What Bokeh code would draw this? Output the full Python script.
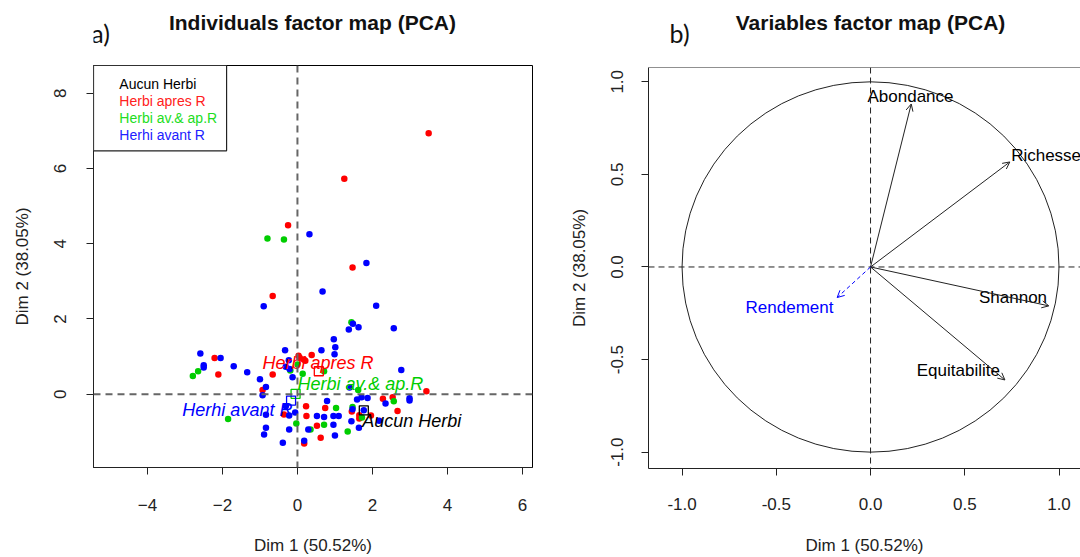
from bokeh.plotting import figure
from bokeh.models import Span, Label, BoxAnnotation, FixedTicker, Arrow, OpenHead, ColumnDataSource, Range1d
from bokeh.layouts import row, column
from bokeh.embed import file_html
from bokeh.resources import INLINE
from bokeh.core.properties import value

FONT = "Liberation Sans"

# ---------------- data: individuals ----------------
groups = ["Aucun Herbi", "Herbi apres R", "Herbi av.& ap.R", "Herhi avant R"]
group_colors = ["#000000", "#FF0000", "#00CD00", "#0000FF"]
legend_colors = ["#000000", "#FF2020", "#22DD22", "#2020FF"]

apres_x = [3.50, 1.25, -0.25, 1.47, -0.66, -2.21, -2.11, 0.38, 0.06, 0.17, 0.21, -0.66, -0.93,
           3.44, 2.28, 2.54, 2.67, 0.23, 0.74, 1.45, -0.36, 0.24, 0.52, 0.62, 0.18, 1.65, 1.65, 1.96, 0.03]
apres_y = [6.94, 5.73, 4.49, 3.37, 2.61, 0.96, 0.52, 1.04, 0.97, 0.92, 0.89, 0.52, 0.11,
           0.08, -0.12, -0.08, -0.45, -0.32, -0.37, -0.46, -0.54, -0.58, -0.84, -1.16, -1.31, -0.56, -0.65, -0.57, 1.02]

avap_x = [-0.80, -0.36, 1.44, -2.65, -2.79, 0.00, -0.19, 0.71, 0.14, 1.62, 2.57, 1.03, -1.85,
          -0.03, 0.71, 0.35, 1.34, 1.72, 1.47]
avap_y = [4.14, 4.11, 1.91, 0.61, 0.48, 0.79, 0.63, 0.61, 0.54, 0.11, -0.19, -0.37, -0.66,
          -0.78, -0.81, -0.94, -0.99, -0.62, -0.34]

avant_x = [0.32, 1.84, 0.67, 2.10, -0.90, 1.37, 1.48, 1.63, 2.57, 0.97, 1.01, 0.99, 0.64, -0.33,
           -2.59, -2.05, -2.50, -2.50, -1.70, -1.34, -0.23, -0.31, -0.21, -0.13, -1.00, -0.84, -0.93,
           2.77, 1.39, 1.59, 1.71, 1.87, 2.35, 2.99, 2.99, 0.79, -0.31, -0.22, -0.06, 0.52, 0.71,
           0.96, 1.10, 1.44, 1.64, 2.18, 0.96, -0.84, -0.89, -0.22, 0.29, 1.00, -0.39, 0.18, 1.77,
           1.47, -0.84]
avant_y = [4.25, 3.49, 2.73, 2.35, 2.34, 1.72, 1.87, 1.78, 1.75, 1.46, 1.25, 1.06, 1.17, 1.17,
           1.08, 0.96, 0.77, 0.71, 0.74, 0.58, 0.90, 0.73, 0.67, 0.45, 0.40, 0.19, -0.03,
           0.64, 0.18, -0.14, -0.08, -0.10, -0.25, -0.11, -0.17, -0.18, -0.32, -0.57, -0.49, -0.58, -0.61,
           -0.58, -0.58, -0.72, -0.89, -0.71, -0.81, -0.89, -1.07, -0.94, -0.94, -1.10, -1.29, -1.24, -0.43,
           -0.40, -0.55]

centroid_x = [1.77, 0.57, -0.05, -0.17]
centroid_y = [-0.43, 0.61, 0.01, -0.17]
grp_label_x = [1.73, -0.93, 0.00, -3.07]
grp_label_y = [-0.71, 0.82, 0.26, -0.42]

x1_ticks = [-4, -2, 0, 2, 4, 6]
y1_ticks = [0, 2, 4, 6, 8]

# ---------------- data: variables ----------------
var_names = ["Abondance", "Richesse", "Shannon", "Equitabilite", "Rendement"]
var_x = [0.216, 0.739, 0.946, 0.713, -0.177]
var_y = [0.880, 0.567, -0.210, -0.610, -0.165]
var_label_x = [0.212, 0.746, 0.756, 0.466, -0.430]
var_label_y = [0.923, 0.603, -0.165, -0.560, -0.219]
var_colors = ["#000000", "#000000", "#000000", "#000000", "#0000FF"]
x2_ticks = [-1.0, -0.5, 0.0, 0.5, 1.0]
y2_ticks = [-1.0, -0.5, 0.0, 0.5, 1.0]
tick2_labels = ["-1.0", "-0.5", "0.0", "0.5", "1.0"]


def style(p, xt, yt):
    p.xgrid.visible = False
    p.ygrid.visible = False
    p.outline_line_color = "black"
    p.outline_line_width = 1
    p.outline_line_alpha = 1
    p.background_fill_color = "white"
    p.border_fill_color = "white"
    p.xaxis.ticker = FixedTicker(ticks=xt)
    p.yaxis.ticker = FixedTicker(ticks=yt)
    for ax in (p.xaxis, p.yaxis):
        ax.minor_tick_line_color = None
        ax.major_tick_in = 0
        ax.major_tick_out = 7
        ax.major_tick_line_color = "#222222"
        ax.axis_line_color = "#222222"
        ax.major_label_text_font = FONT
        ax.major_label_text_font_size = "17px"
        ax.major_label_text_color = "#222222"
        ax.axis_label_text_font = FONT
        ax.axis_label_text_font_size = "17px"
        ax.axis_label_text_font_style = "normal"
        ax.axis_label_text_color = "#222222"
    p.yaxis.major_label_orientation = "vertical"


def header(x_range, width, height, left, right, title, tag, title_x, tag_x):
    h = figure(width=width, height=height, x_range=x_range, y_range=Range1d(height, 0),
               output_backend="svg", toolbar_location=None, x_axis_type=None, y_axis_type=None,
               min_border_left=left, min_border_right=right, min_border_top=0, min_border_bottom=0)
    h.xgrid.visible = False
    h.ygrid.visible = False
    h.outline_line_color = None
    h.background_fill_color = "white"
    h.border_fill_color = "white"
    h.text(x=[title_x], y=[22], text=[title], text_font=value(FONT), text_font_size="21px",
           text_font_style="bold", text_color="#111111", text_align="center", text_baseline="middle")
    h.text(x=[tag_x], y=[32], text=[tag], text_font=value("Lato"), text_font_size="25px",
           text_color="#111111", text_align="center", text_baseline="middle")
    return h


# ---------------- left panel ----------------
p1 = figure(width=560, height=494, x_range=Range1d(-5.44, 6.27), y_range=Range1d(-1.95, 8.74),
            output_backend="svg", toolbar_location=None,
            min_border_left=93, min_border_right=28, min_border_top=2, min_border_bottom=86)
style(p1, x1_ticks, y1_ticks)
p1.xaxis.axis_label = "Dim 1 (50.52%)"
p1.yaxis.axis_label = "Dim 2 (38.05%)"
p1.xaxis.major_label_standoff = 24
p1.xaxis.axis_label_standoff = 22
p1.yaxis.major_label_standoff = 20
p1.yaxis.axis_label_standoff = 20

p1.add_layout(Span(location=0, dimension="height", line_dash="7 5", line_color="#666666", line_width=2))
p1.add_layout(Span(location=0, dimension="width", line_dash="7 5", line_color="#666666", line_width=2))

for xs, ys, c in [(apres_x, apres_y, group_colors[1]), (avap_x, avap_y, group_colors[2]),
                  (avant_x, avant_y, group_colors[3])]:
    p1.scatter(x=xs, y=ys, size=6.5, fill_color=c, line_color=None)

p1.scatter(x=centroid_x, y=centroid_y, marker="square", size=9, fill_color=None,
           line_color=group_colors, line_width=1.3)

for i in range(4):
    p1.text(x=[grp_label_x[i]], y=[grp_label_y[i]], text=[groups[i]], text_color=group_colors[i],
            text_font=value(FONT), text_font_size="18px", text_font_style="italic",
            text_align="left", text_baseline="middle")

# legend box
p1.add_layout(BoxAnnotation(left=-5.44, right=-1.89, bottom=6.47, top=8.74, fill_color="white",
                            fill_alpha=1, line_color="#222222", line_width=1.2, line_alpha=1))
leg_y = [8.24, 7.79, 7.34, 6.89]
for i in range(4):
    p1.add_layout(Label(x=-4.75, y=leg_y[i], text=groups[i], text_color=legend_colors[i],
                        text_font=FONT, text_font_size="14px", text_baseline="middle"))

h1 = header(p1.x_range, 560, 63, 93, 28, "Individuals factor map (PCA)", "a)", 0.40, -5.25)

# ---------------- right panel ----------------
p2 = figure(width=520, height=492, x_range=Range1d(-1.178, 1.114), y_range=Range1d(-1.088, 1.077),
            output_backend="svg", toolbar_location=None,
            min_border_left=88, min_border_right=0, min_border_top=2, min_border_bottom=84)
style(p2, x2_ticks, y2_ticks)
p2.outline_line_color = None
p2.add_layout(Span(location=1.077, dimension="width", line_color="#222222", line_width=1))
p2.xaxis.major_label_overrides = {t: l for t, l in zip(x2_ticks, tick2_labels)}
p2.yaxis.major_label_overrides = {t: l for t, l in zip(y2_ticks, tick2_labels)}
p2.xaxis.axis_label = "Dim 1 (50.52%)"
p2.yaxis.axis_label = "Dim 2 (38.05%)"
p2.xaxis.major_label_standoff = 22
p2.xaxis.axis_label_standoff = 23
p2.yaxis.major_label_standoff = 18
p2.yaxis.axis_label_standoff = 20

p2.add_layout(Span(location=0, dimension="height", line_dash="6 4", line_color="#222222", line_width=1))
p2.add_layout(Span(location=0, dimension="width", line_dash="6 4", line_color="#222222", line_width=1))

p2.ellipse(x=[0], y=[0], width=[2], height=[2], fill_color=None, line_color="#222222", line_width=1)

src = ColumnDataSource(dict(x0=[0, 0, 0, 0], y0=[0, 0, 0, 0], x1=var_x[:4], y1=var_y[:4]))
p2.add_layout(Arrow(end=OpenHead(size=7, line_width=1, line_color="#222222"),
                    x_start="x0", y_start="y0", x_end="x1", y_end="y1", source=src,
                    line_color="#222222", line_width=1))
src_r = ColumnDataSource(dict(x0=[0], y0=[0], x1=var_x[4:], y1=var_y[4:]))
p2.add_layout(Arrow(end=OpenHead(size=7, line_width=1, line_color="#0000FF"),
                    x_start="x0", y_start="y0", x_end="x1", y_end="y1", source=src_r,
                    line_color="#0000FF", line_width=1, line_dash="4 3"))

for i in range(5):
    p2.text(x=[var_label_x[i]], y=[var_label_y[i]], text=[var_names[i]], text_color=var_colors[i],
            text_font=value(FONT), text_font_size="17px",
            text_align="left" if var_names[i] == "Richesse" else "center", text_baseline="middle")

h2 = header(p2.x_range, 520, 65, 88, 0, "Variables factor map (PCA)", "b)", 0.0, -1.013)

layout = row(column(h1, p1), column(h2, p2))
open("out.html", "w").write(file_html(layout, INLINE))
